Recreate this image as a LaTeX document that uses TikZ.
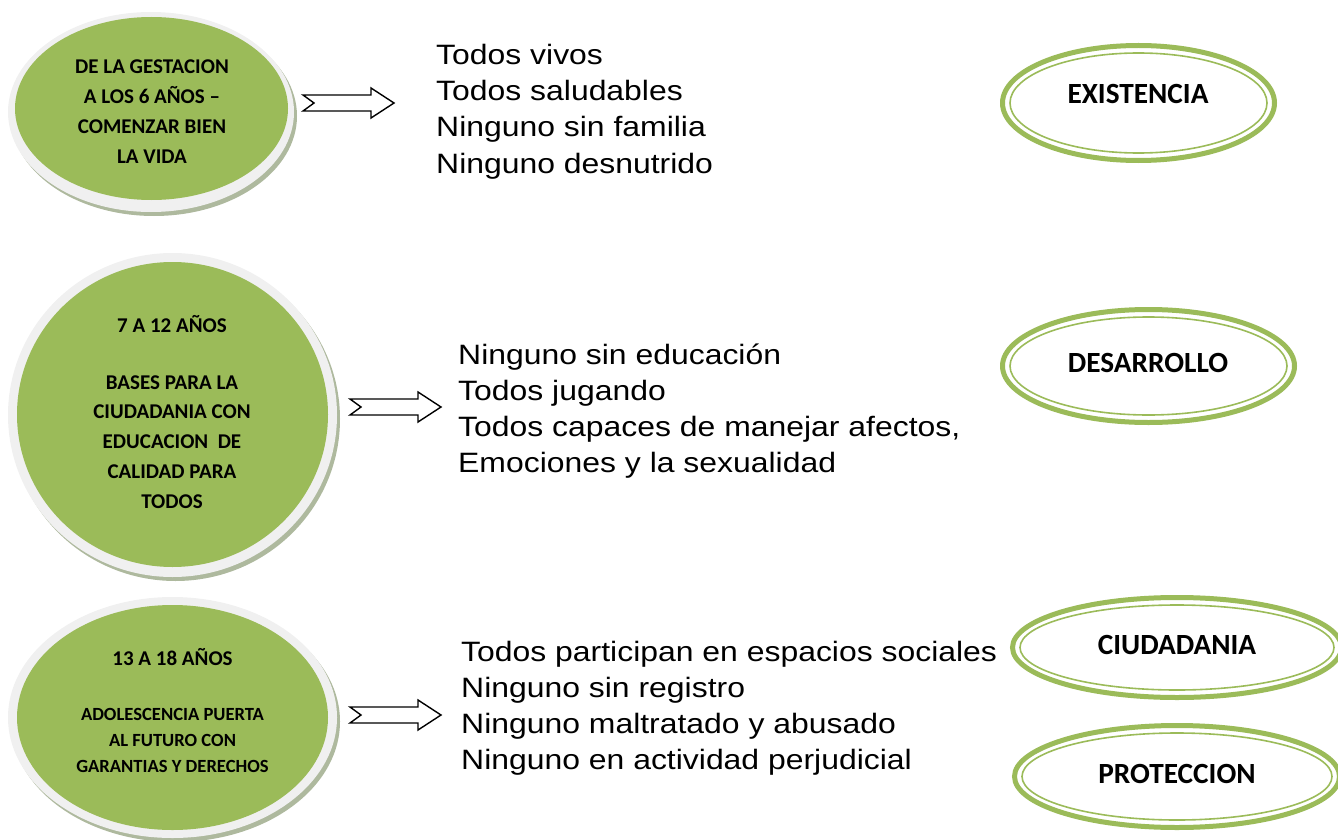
\documentclass[tikz,border=0pt]{standalone}
\usepackage{fontspec}
\newfontfamily\calfont{Carlito}
\newfontfamily\listfont[FakeStretch=1.14]{Liberation Sans}
\definecolor{leafgreen}{HTML}{9BBB59}
\definecolor{halo}{HTML}{F0F0F0}
\definecolor{shade}{HTML}{AEB99E}
\tikzset{
  circtext/.style={font=\calfont\bfseries\fontsize{21}{25}\selectfont, anchor=base, inner sep=0pt},
  smalltext/.style={circtext, font=\calfont\bfseries\fontsize{18.6}{22}\selectfont},
  listtext/.style={font=\listfont\fontsize{28}{34}\selectfont, anchor=base west, inner sep=0pt},
  labeltext/.style={font=\calfont\bfseries\fontsize{29.3}{34}\selectfont, anchor=base, inner sep=0pt},
  outerring/.style={draw=leafgreen, line width=5pt},
  innerring/.style={draw=leafgreen, line width=1.6pt},
  shadowfill/.style={fill=shade},
  halofill/.style={fill=halo},
  greenfill/.style={fill=leafgreen},
  notcharrow/.pic={
    \draw[line width=1.4pt, fill=white, line join=miter]
      (0,-8) -- (68,-8) -- (68,-15) -- (91,0) -- (68,15) -- (68,8) -- (0,8) -- (11,0) -- cycle;
  }
}
\begin{document}
\begin{tikzpicture}[x=1pt,y=-1pt]
\useasboundingbox (0,0) rectangle (1338,840);
\clip (0,0) rectangle (1338,840);

% ---- circle 1
\fill[shadowfill] (154,116) ellipse [x radius=143, y radius=100];
\fill[halofill] (151,112) ellipse [x radius=143, y radius=100];
\fill[greenfill] (151.5,108.5) ellipse [x radius=136.5, y radius=91.5];
\node[circtext] (c1a) at (152,74) {DE LA GESTACION};
\node[circtext] (c1b) at (152,104) {A LOS 6 AÑOS –};
\node[circtext] (c1c) at (152,134) {COMENZAR BIEN};
\node[circtext] (c1d) at (152,164) {LA VIDA};

% ---- circle 2
\fill[shadowfill] (175.5,419) ellipse [x radius=164.5, y radius=162];
\fill[halofill] (172.5,415) ellipse [x radius=164.5, y radius=162];
\fill[greenfill] (172.5,414.5) ellipse [x radius=155.5, y radius=152.5];
\node[circtext] (c2a) at (172,332) {7 A 12 AÑOS};
\node[circtext] (c2b) at (172,389) {BASES PARA LA};
\node[circtext] (c2c) at (172,418) {CIUDADANIA CON};
\node[circtext] (c2d) at (172,448) {EDUCACION\ \ DE};
\node[circtext] (c2e) at (172,478) {CALIDAD PARA};
\node[circtext] (c2f) at (172,508) {TODOS};

% ---- circle 3
\fill[shadowfill] (175.5,721.5) ellipse [x radius=164.5, y radius=120.5];
\fill[halofill] (172.5,717.5) ellipse [x radius=164.5, y radius=120.5];
\fill[greenfill] (172.5,717.5) ellipse [x radius=155.5, y radius=112.5];
\node[circtext] (c3a) at (172.5,665) {13 A 18 AÑOS};
\node[smalltext] (c3b) at (172.5,720) {ADOLESCENCIA PUERTA};
\node[smalltext] (c3c) at (172.5,746.5) {AL FUTURO CON};
\node[smalltext] (c3d) at (172.5,772.5) {GARANTIAS Y DERECHOS};

% ---- arrows
\pic (arrowA) at (303,103) {notcharrow};
\pic (arrowB) at (350,407) {notcharrow};
\pic (arrowC) at (350,715) {notcharrow};

% ---- lists
\node[listtext] (l1a) at (436,65) {Todos vivos};
\node[listtext] (l1b) at (436,101) {Todos saludables};
\node[listtext] (l1c) at (436,137) {Ninguno sin familia};
\node[listtext] (l1d) at (436,173) {Ninguno desnutrido};

\node[listtext] (l2a) at (458,364) {Ninguno sin educación};
\node[listtext] (l2b) at (458,400) {Todos jugando};
\node[listtext] (l2c) at (458,436) {Todos capaces de manejar afectos,};
\node[listtext] (l2d) at (458,472) {Emociones y la sexualidad};

\node[listtext] (l3a) at (461,661) {Todos participan en espacios sociales};
\node[listtext] (l3b) at (461,697) {Ninguno sin registro};
\node[listtext] (l3c) at (461,733) {Ninguno maltratado y abusado};
\node[listtext] (l3d) at (461,769) {Ninguno en actividad perjudicial};

% ---- right ellipses
\draw[outerring] (1138.5,103) ellipse [x radius=136, y radius=57.5];
\draw[innerring] (1138.5,103) ellipse [x radius=128.5, y radius=50];
\node[labeltext] (ex) at (1138,104) {EXISTENCIA};

\draw[outerring] (1148.5,366) ellipse [x radius=146, y radius=56.5];
\draw[innerring] (1148.5,366) ellipse [x radius=138.5, y radius=49];
\node[labeltext] (de) at (1148,372.5) {DESARROLLO};

\draw[outerring] (1177,647.5) ellipse [x radius=164.5, y radius=50];
\draw[innerring] (1177,647.5) ellipse [x radius=157, y radius=42.5];
\node[labeltext] (ci) at (1177,654) {CIUDADANIA};

\draw[outerring] (1177,776.5) ellipse [x radius=162.5, y radius=51];
\draw[innerring] (1177,776.5) ellipse [x radius=155, y radius=43.5];
\node[labeltext] (pr) at (1177,783) {PROTECCION};
\end{tikzpicture}
\end{document}
